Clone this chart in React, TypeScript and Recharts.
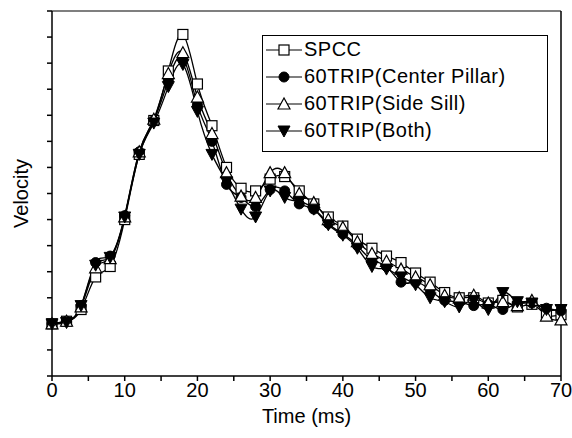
import { LineChart, Line, XAxis, YAxis } from 'recharts';

const time = [0, 2, 4, 6, 8, 10, 12, 14, 16, 18, 20, 22, 24, 26, 28, 30, 32, 34, 36, 38, 40, 42, 44, 46, 48, 50, 52, 54, 56, 58, 60, 62, 64, 66, 68, 70];

const spcc = [2.0, 2.1, 2.55, 3.8, 4.2, 6.0, 8.5, 9.8, 11.7, 13.1, 11.2, 9.6, 8.0, 7.2, 7.1, 7.55, 7.65, 7.1, 6.6, 6.1, 5.75, 5.25, 4.9, 4.6, 4.35, 3.95, 3.6, 3.2, 3.0, 3.0, 2.8, 2.9, 2.65, 2.75, 2.35, 2.35];
const centerPillar = [2.0, 2.1, 2.7, 4.35, 4.6, 6.15, 8.6, 9.8, 11.35, 12.2, 10.4, 9.0, 7.35, 6.85, 6.5, 7.15, 7.1, 6.6, 6.4, 5.85, 5.45, 5.0, 4.45, 4.2, 3.6, 3.6, 3.3, 2.9, 2.85, 2.7, 2.75, 2.55, 2.8, 2.8, 2.6, 2.5];
const sideSill = [2.0, 2.1, 2.65, 4.15, 4.5, 6.1, 8.6, 9.85, 11.6, 12.4, 10.7, 9.3, 7.8, 6.9, 6.85, 7.8, 7.8, 7.0, 6.65, 6.0, 5.7, 5.15, 4.7, 4.4, 4.1, 3.8, 3.5, 3.1, 3.0, 3.1, 2.8, 2.85, 2.7, 2.9, 2.3, 2.15];
const both = [2.0, 2.05, 2.7, 4.25, 4.55, 6.1, 8.5, 9.7, 11.1, 11.95, 10.15, 8.5, 7.45, 6.4, 6.1, 7.1, 6.85, 6.7, 6.4, 5.8, 5.4, 4.9, 4.2, 4.1, 3.8, 3.5, 3.0, 2.85, 2.65, 2.9, 2.55, 3.2, 2.85, 2.8, 2.55, 2.55];

const xTicks = [0, 5, 10, 15, 20, 25, 30, 35, 40, 45, 50, 55, 60, 65, 70];
const yTicks = [0, 1, 2, 3, 4, 5, 6, 7, 8, 9, 10, 11, 12, 13, 14];

const seriesNames = ['SPCC', '60TRIP(Center Pillar)', '60TRIP(Side Sill)', '60TRIP(Both)'];

const data = time.map((t, i) => ({
  t,
  spcc: spcc[i],
  cp: centerPillar[i],
  ss: sideSill[i],
  both: both[i],
}));

const FONT = '"Liberation Sans", Arial, sans-serif';

type Kind = 'square' | 'circle' | 'up' | 'down';

function Marker({ kind, cx, cy }: { kind: Kind; cx: number; cy: number }) {
  if (kind === 'square') {
    return <rect x={cx - 5} y={cy - 5} width={10} height={10} fill="#fff" stroke="#000" strokeWidth={1.2} />;
  }
  if (kind === 'circle') {
    return <circle cx={cx} cy={cy} r={5} fill="#000" stroke="#000" />;
  }
  if (kind === 'up') {
    return <polygon points={`${cx},${cy - 6} ${cx - 6},${cy + 5} ${cx + 6},${cy + 5}`} fill="#fff" stroke="#000" strokeWidth={1.2} />;
  }
  return <polygon points={`${cx},${cy + 6} ${cx - 6},${cy - 5} ${cx + 6},${cy - 5}`} fill="#000" stroke="#000" />;
}

const dotOf = (kind: Kind) => (props: any) => {
  const { cx, cy, index } = props;
  if (cx == null || cy == null) return <g key={`${kind}-${index}`} />;
  return (
    <g key={`${kind}-${index}`}>
      <Marker kind={kind} cx={cx} cy={cy} />
    </g>
  );
};

const kinds: Kind[] = ['square', 'circle', 'up', 'down'];

function LegendBox() {
  return (
    <div
      style={{
        position: 'absolute',
        left: 262,
        top: 35,
        border: '1px solid #000',
        width: 286,
        height: 117,
        boxSizing: 'border-box',
        padding: '0 0 0 3px',
        fontFamily: FONT,
        fontSize: 20,
        letterSpacing: 0.5,
        background: '#fff',
      }}
    >
      {seriesNames.map((name, i) => (
        <div key={name} style={{ display: 'flex', alignItems: 'center', height: 27 }}>
          <svg width={36} height={16} style={{ marginRight: 2 }}>
            <line x1={0} y1={8} x2={36} y2={8} stroke="#000" strokeWidth={1.2} />
            <Marker kind={kinds[i]} cx={18} cy={8} />
          </svg>
          <span>{name}</span>
        </div>
      ))}
    </div>
  );
}

const hiddenTick = () => <g />;

export default function App() {
  return (
    <div style={{ position: 'absolute', left: 0, top: 0, width: 572, height: 438, background: '#fff' }}>
      <LineChart width={572} height={438} data={data} margin={{ top: 10, right: 10, bottom: 0, left: 22 }}>
        <XAxis
          dataKey="t"
          type="number"
          domain={[0, 70]}
          ticks={xTicks}
          interval={0}
          tickFormatter={(v: number) => (v % 10 === 0 ? String(v) : '')}
          height={62}
          stroke="#000"
          strokeWidth={1.5}
          tickSize={5}
          tick={{ fill: '#000', fontSize: 20, fontFamily: FONT }}
          label={{ value: 'Time (ms)', position: 'insideBottom', offset: 15, fill: '#000', fontSize: 20, fontFamily: FONT }}
        />
        <XAxis xAxisId="top" dataKey="t" type="number" domain={[0, 70]} orientation="top" height={1} stroke="#000" strokeWidth={1.2} tickLine={false} tick={false} />
        <YAxis
          type="number"
          domain={[0, 14]}
          ticks={yTicks}
          interval={0}
          width={30}
          stroke="#000"
          strokeWidth={1.5}
          tickSize={5}
          tick={hiddenTick}
          label={{
            content: (p: any) => {
              const vb = p.viewBox || { x: 22, y: 11, width: 30, height: 365 };
              const x = vb.x - 1;
              const y = vb.y + vb.height / 2;
              return (
                <text x={x} y={y} transform={`rotate(-90 ${x} ${y})`} textAnchor="middle" dominantBaseline="central" fill="#000" fontSize={20} fontFamily={FONT}>
                  Velocity
                </text>
              );
            },
          }}
        />
        <YAxis yAxisId="right" orientation="right" domain={[0, 14]} width={1} stroke="#000" strokeWidth={1.5} tickLine={false} tick={false} />
        <Line type="natural" dataKey="spcc" name={seriesNames[0]} stroke="#000" strokeWidth={1.3} dot={dotOf('square')} isAnimationActive={false} />
        <Line type="natural" dataKey="cp" name={seriesNames[1]} stroke="#000" strokeWidth={1.3} dot={dotOf('circle')} isAnimationActive={false} />
        <Line type="natural" dataKey="ss" name={seriesNames[2]} stroke="#000" strokeWidth={1.3} dot={dotOf('up')} isAnimationActive={false} />
        <Line type="natural" dataKey="both" name={seriesNames[3]} stroke="#000" strokeWidth={1.3} dot={dotOf('down')} isAnimationActive={false} />
      </LineChart>
      <LegendBox />
    </div>
  );
}
